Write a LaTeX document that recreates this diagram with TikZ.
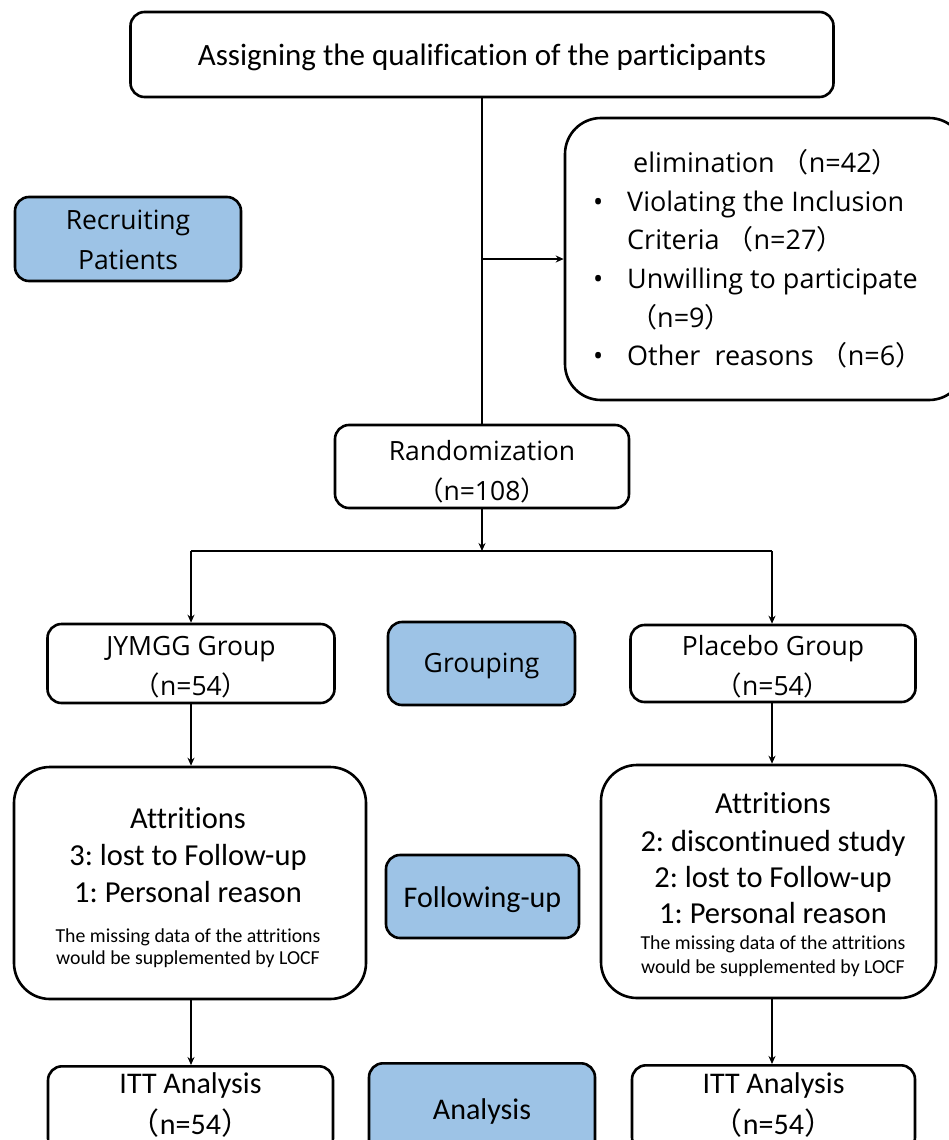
\documentclass[tikz,border=0pt]{standalone}
\usepackage{fontspec}
\setmainfont{Carlito}[Ligatures=CommonOff]
\newfontfamily\yh{Open Sans}
\newfontfamily\cjk{Noto Sans CJK SC}
\usetikzlibrary{arrows.meta}
\definecolor{boxblue}{RGB}{157,195,230}
\newcommand\fwl{{\cjk （}}
\newcommand\fwr{{\cjk ）}}
\frenchspacing
\tikzset{
  box/.style={draw=black, line width=2.6pt, rounded corners=14pt, fill=white, inner sep=0pt},
  bigbox/.style={box, rounded corners=36pt},
  phase/.style={box, fill=boxblue},
  conn/.style={line width=1.7pt, -{Stealth[length=8pt,width=7pt]}},
  plain/.style={line width=1.7pt},
  txt/.style={inner sep=0pt, align=center},
  yhfont/.style={txt, font=\yh\fontsize{26.5}{40}\selectfont},
  cafont/.style={txt, font=\fontsize{30}{41}\selectfont},
  bigline/.style={inner sep=0pt, anchor=base, font=\fontsize{30.5}{36}\selectfont},
  smallline/.style={inner sep=0pt, anchor=base, font=\fontsize{19.8}{24}\selectfont},
}
\begin{document}
\begin{tikzpicture}[x=1pt,y=-1pt]
\useasboundingbox (0,0) rectangle (949,1140);
\clip (0,0) rectangle (949,1140);
\fill[white] (0,0) rectangle (949,1140);

% boxes
\node[box, minimum width=703pt, minimum height=85pt] (top) at (482,54.5) {};
\node[bigbox, minimum width=400pt, minimum height=282pt] (elim) at (765,259) {};
\node[phase, minimum width=226pt, minimum height=84pt] (recruit) at (128,239) {};
\node[box, minimum width=294pt, minimum height=83pt] (rand) at (482,466.5) {};
\node[box, minimum width=287pt, minimum height=79pt] (jymgg) at (191,663.5) {};
\node[phase, minimum width=187pt, minimum height=83pt] (grouping) at (481.5,663.5) {};
\node[box, minimum width=285pt, minimum height=77pt] (placebo) at (773,663.5) {};
\node[bigbox, minimum width=352pt, minimum height=232pt] (latt) at (190,883) {};
\node[phase, minimum width=193pt, minimum height=83pt] (follow) at (482.5,896.5) {};
\node[bigbox, minimum width=335pt, minimum height=233pt] (ratt) at (768.5,881.5) {};
\node[box, minimum width=285pt, minimum height=86pt, anchor=north] (litt) at (190.5,1065) {};
\node[phase, minimum width=226pt, minimum height=90pt, anchor=north] (analysis) at (482,1062) {};
\node[box, minimum width=283pt, minimum height=86pt, anchor=north] (ritt) at (773.5,1064) {};

% texts
\node[txt, font=\fontsize{31}{36}\selectfont] (toptext) at (482,57) {Assigning the qualification of the participants};

\node[anchor=west, align=left, inner sep=0pt, font=\yh\fontsize{27}{38.6}\selectfont] (elimtext) at (593,259) {%
\hspace*{40pt}elimination \fwl n=42\fwr\\
\makebox[34pt][l]{•}Violating the Inclusion\\
\hspace*{34pt}Criteria \fwl n=27\fwr\\
\makebox[34pt][l]{•}Unwilling to participate\\
\hspace*{37pt}\fwl n=9\fwr\\
\makebox[34pt][l]{•}Other~ reasons \fwl n=6\fwr};

\node[yhfont] (recruittext) at (128,240) {Recruiting\\Patients};
\node[yhfont] (randtext) at (482,471.5) {Randomization\\\fwl n=108\fwr};
\node[yhfont] (jymggtext) at (191,667) {JYMGG Group\\\fwl n=54\fwr};
\node[yhfont] (groupingtext) at (481.5,665.5) {Grouping};
\node[yhfont] (placebotext) at (773,667) {Placebo Group\\\fwl n=54\fwr};

\node[bigline] (la1) at (188,828) {Attritions};
\node[bigline] (la2) at (188,865) {3: lost to Follow-up};
\node[bigline] (la3) at (188,902) {1: Personal reason};
\node[smallline] (la4) at (188,942) {The missing data of the attritions};
\node[smallline] (la5) at (188,964) {would be supplemented by LOCF};

\node[cafont] (followtext) at (482.5,900) {Following-up};

\node[bigline] (ra1) at (773,813) {Attritions};
\node[bigline] (ra2) at (773,851) {2: discontinued study};
\node[bigline] (ra3) at (773,887) {2: lost to Follow-up};
\node[bigline] (ra4) at (773,923) {1: Personal reason};
\node[smallline] (ra5) at (773,949) {The missing data of the attritions};
\node[smallline] (ra6) at (773,973) {would be supplemented by LOCF};

\node[cafont] (litttext) at (190.5,1105) {ITT Analysis\\\fwl n=54\fwr};
\node[cafont] (analysistext) at (482,1111) {Analysis};
\node[cafont] (ritttext) at (773.5,1105) {ITT Analysis\\\fwl n=54\fwr};

% connectors
\draw[plain] (top.south) -- (rand.north);
\coordinate (br) at (482,259);
\draw[conn] (br) -- (elim.west);
\coordinate (split) at (482,551);
\draw[conn] (rand.south) -- (split);
\coordinate (sl) at (191,551);
\coordinate (sr) at (772,551);
\draw[plain] (sl) -- (sr);
\draw[conn] (sl) -- (sl |- jymgg.north);
\draw[conn] (sr) -- (sr |- placebo.north);
\draw[conn] (jymgg.south) -- (jymgg.south |- latt.north);
\draw[conn] (sr |- placebo.south) -- (sr |- ratt.north);
\draw[conn] (jymgg.south |- latt.south) -- (jymgg.south |- litt.north);
\draw[conn] (sr |- ratt.south) -- (sr |- ritt.north);
\end{tikzpicture}
\end{document}
